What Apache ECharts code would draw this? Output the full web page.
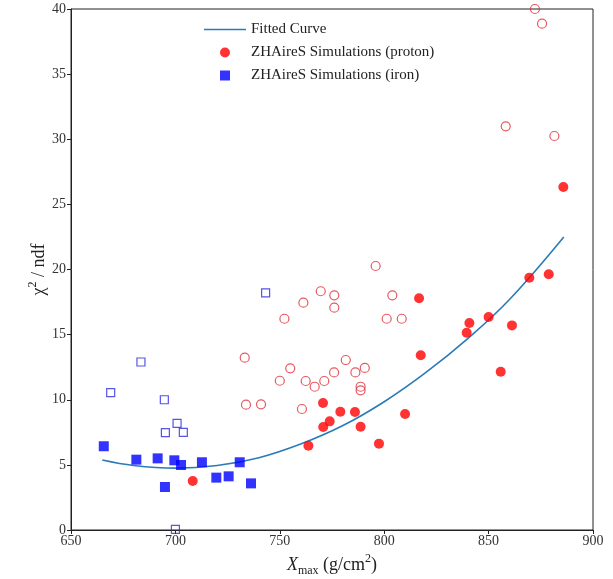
<!DOCTYPE html>
<html>
<head>
<meta charset="utf-8">
<script src="https://cdn.jsdelivr.net/npm/echarts@6/dist/echarts.min.js"></script>
<style>
  html, body { margin: 0; padding: 0; background: #fff; }
  #chart { width: 613px; height: 579px; }
</style>
</head>
<body>
<div id="chart"></div>
<script>
// Xmax (g/cm^2) vs chi^2/ndf for ZHAireS simulated showers

// Proton showers, accepted (filled) and rejected (open)
const protonKept = [
  [708.3, 3.76], [763.7, 6.47], [770.8, 7.91], [773.9, 8.34], [770.7, 9.75],
  [779.0, 9.08], [786.0, 9.06], [788.7, 7.93], [797.5, 6.63], [810.0, 8.91],
  [816.7, 17.79], [817.5, 13.41], [839.5, 15.15], [840.8, 15.89], [850.0, 16.35],
  [855.8, 12.15], [861.2, 15.71], [869.5, 19.37], [878.8, 19.63], [885.8, 26.33]
];
const protonDropped = [
  [733.2, 13.23], [733.8, 9.62], [741.0, 9.65], [750.0, 11.46], [752.2, 16.22],
  [755.0, 12.41], [760.6, 9.29], [761.3, 17.45], [762.4, 11.44], [766.7, 11.0],
  [769.6, 18.33], [771.3, 11.44], [776.0, 12.1], [776.1, 18.02], [776.1, 17.07],
  [781.6, 13.05], [786.2, 12.1], [788.7, 11.0], [788.7, 10.72], [790.7, 12.44],
  [795.9, 20.27], [801.2, 16.22], [803.9, 18.02], [808.4, 16.22],
  [858.2, 30.99], [881.5, 30.25], [875.6, 38.87], [872.2, 40.0]
];

// Iron showers, accepted (filled) and rejected (open)
const ironKept = [
  [665.7, 6.43], [681.3, 5.40], [691.5, 5.50], [695.0, 3.30], [699.5, 5.35],
  [702.7, 4.99], [712.7, 5.20], [719.6, 4.02], [725.5, 4.12], [730.8, 5.20],
  [736.2, 3.58]
];
const ironDropped = [
  [669.0, 10.54], [683.5, 12.9], [694.7, 10.0], [695.2, 7.47], [700.8, 8.19],
  [703.8, 7.50], [700.0, 0.05], [743.2, 18.2]
];

// Fitted curve sampled along Xmax
const fitX = [665, 680, 700, 720, 740, 760, 780, 800, 820, 840, 860, 886];
const fitY = [5.37, 4.95, 4.75, 4.95, 5.55, 6.6, 8.0, 9.85, 12.1, 14.7, 17.7, 22.5];

const xTicks = { min: 650, max: 900, step: 50 };
const yTicks = { min: 0, max: 40, step: 5 };

const serif = '"Liberation Serif", "DejaVu Serif", serif';
const ink = '#222';

// legend glyphs: a thin bar for the curve, a square for iron
const lineIcon = 'path://M0,0L42,0L42,1.6L0,1.6Z';
const squareIcon = 'path://M0,0L10,0L10,10L0,10Z';

const chart = echarts.init(document.getElementById('chart'), null, { renderer: 'canvas' });

chart.setOption({
  animation: false,
  backgroundColor: '#fff',
  textStyle: { fontFamily: serif },
  grid: {
    left: 71, right: 20, top: 9, bottom: 49,
    outerBoundsMode: 'none',
    containLabel: false,
    show: true, borderColor: ink, borderWidth: 1, backgroundColor: 'transparent'
  },
  legend: {
    orient: 'vertical',
    left: 199, top: 17,
    itemWidth: 42, itemHeight: 10, itemGap: 8,
    symbolKeepAspect: true,
    textStyle: { fontFamily: serif, fontSize: 15, color: ink },
    data: [
      { name: 'Fitted Curve', icon: lineIcon },
      { name: 'ZHAireS Simulations (proton)', icon: 'circle' },
      { name: 'ZHAireS Simulations (iron)', icon: squareIcon }
    ]
  },
  xAxis: {
    type: 'value',
    min: xTicks.min, max: xTicks.max, interval: xTicks.step,
    name: '{it|X}{sub|max} (g/cm{sup|2})',
    nameLocation: 'middle', nameGap: 20,
    nameTextStyle: {
      fontFamily: serif, fontSize: 18, color: ink, lineHeight: 24,
      rich: {
        it: { fontStyle: 'italic', fontSize: 18, fontFamily: serif, color: ink },
        sub: { fontSize: 12, verticalAlign: 'bottom', fontFamily: serif, color: ink, padding: [6, 0, 0, 0] },
        sup: { fontSize: 12, verticalAlign: 'top', fontFamily: serif, color: ink }
      }
    },
    axisLine: { onZero: false, lineStyle: { color: ink, width: 1 } },
    axisTick: { show: true, length: 4, lineStyle: { color: ink } },
    axisLabel: { fontFamily: serif, fontSize: 14, color: '#333', margin: 4 },
    splitLine: { show: false }
  },
  yAxis: {
    type: 'value',
    min: yTicks.min, max: yTicks.max, interval: yTicks.step,
    name: 'χ{sup|2} / ndf',
    nameLocation: 'middle', nameGap: 20, nameRotate: 90,
    nameMoveOverlap: false,
    nameTextStyle: {
      fontFamily: serif, fontSize: 18, color: ink, lineHeight: 24,
      rich: {
        sup: { fontSize: 12, verticalAlign: 'top', fontFamily: serif, color: ink }
      }
    },
    axisLine: { onZero: false, lineStyle: { color: ink, width: 1 } },
    axisTick: { show: true, length: 4, lineStyle: { color: ink } },
    axisLabel: { fontFamily: serif, fontSize: 14, color: '#333', margin: 5 },
    splitLine: { show: false }
  },
  series: [
    {
      name: 'Fitted Curve',
      type: 'line',
      data: fitX.map((x, i) => [x, fitY[i]]),
      smooth: 0.4,
      symbol: 'none',
      lineStyle: { color: '#2b7bb9', width: 1.6 },
      itemStyle: { color: '#2b7bb9' },
      z: 1
    },
    {
      name: 'proton rejected',
      type: 'scatter',
      data: protonDropped,
      symbol: 'circle', symbolSize: 9,
      itemStyle: { color: 'transparent', borderColor: '#e0303a', borderWidth: 1.2 },
      clip: false,
      z: 2
    },
    {
      name: 'iron rejected',
      type: 'scatter',
      data: ironDropped,
      symbol: 'rect', symbolSize: 8,
      itemStyle: { color: 'transparent', borderColor: '#2a2ae0', borderWidth: 1.2 },
      clip: false,
      z: 2
    },
    {
      name: 'ZHAireS Simulations (proton)',
      type: 'scatter',
      data: protonKept,
      symbol: 'circle', symbolSize: 10,
      itemStyle: { color: '#ff0000' },
      z: 3
    },
    {
      name: 'ZHAireS Simulations (iron)',
      type: 'scatter',
      data: ironKept,
      symbol: 'rect', symbolSize: 10,
      itemStyle: { color: '#0000ff' },
      z: 3
    }
  ]
});
</script>
</body>
</html>
